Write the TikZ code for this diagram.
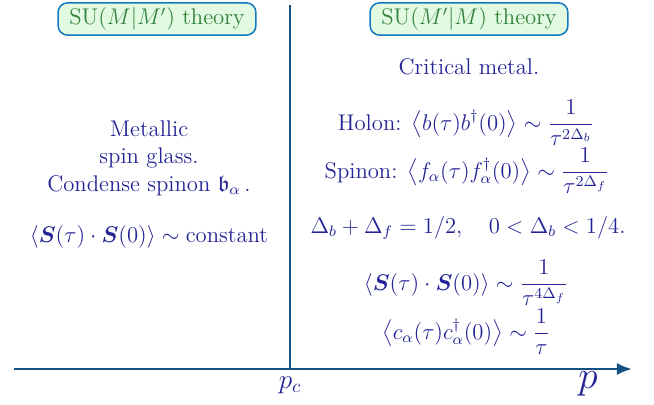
\documentclass[12pt,tikz,border=0pt]{standalone}
\definecolor{axisblue}{RGB}{20, 80, 130}
\definecolor{phasenavy}{RGB}{35, 35, 150}
\definecolor{boxgreen}{RGB}{225, 250, 225}
\definecolor{boxedge}{RGB}{20, 120, 190}
\definecolor{theorygreen}{RGB}{50, 130, 60}
\usepackage{tikz}
\usetikzlibrary{arrows.meta}
\usepackage{amsmath, amssymb}

\begin{document}
\begin{tikzpicture}[
  x=0.0186cm, y=-0.0186cm,
  theory/.style={draw=boxedge, fill=boxgreen, text=theorygreen, rounded corners=5pt, thick,
    minimum width=3.68cm, minimum height=0.6cm, inner sep=2pt},
  phase/.style={text=phasenavy, align=center, inner sep=1pt},
  axis/.style={axisblue, line width=1.5pt}
]
  \useasboundingbox (0,0) rectangle (654,405);
  % axes
  \coordinate (pstart) at (14,369);
  \coordinate (pend) at (632,369);
  \coordinate (ptop) at (290,5);
  \coordinate (pc) at (290,369);
  \draw[axis, -{Latex[length=8pt, width=6.5pt]}] (pstart) -- (pend);
  \draw[axis] (ptop) -- (pc);
  \node[phase] (pclabel) at (290,385) {\large $p_c$};
  \node[phase] (plabel) at (588,384) {\LARGE $p$};
  % theory labels
  \node[theory] (leftth) at (157,19) {$\mathrm{SU}(M|M')$ theory};
  \node[theory] (rightth) at (469,19) {$\mathrm{SU}(M'|M)$ theory};
  % left phase
  \node[phase] (glass) at (149,158) {Metallic\\spin glass.\\Condense spinon $\mathfrak{b}_\alpha$\,.};
  \node[phase] (glasscorr) at (149,237) {$\langle \boldsymbol{S}(\tau)\cdot\boldsymbol{S}(0)\rangle \sim \text{constant}$};
  % right phase
  \node[phase] (metal) at (469,67) {Critical metal.};
  \node[phase] (holon) at (466,123) {Holon: $\displaystyle \big\langle b(\tau) b^\dagger(0) \big\rangle \sim \frac{1}{\tau^{2\Delta_b}}$};
  \node[phase] (spinon) at (467,171) {Spinon: $\displaystyle \big\langle f_\alpha(\tau) f_\alpha^\dagger(0) \big\rangle \sim \frac{1}{\tau^{2\Delta_f}}$};
  \node[phase] (dims) at (468,228) {$\Delta_b + \Delta_f = 1/2, \quad 0 < \Delta_b < 1/4.$};
  \node[phase] (metalspin) at (466,283) {$\displaystyle \langle \boldsymbol{S}(\tau)\cdot\boldsymbol{S}(0)\rangle \sim \frac{1}{\tau^{4\Delta_f}}$};
  \node[phase] (electron) at (466,332) {$\displaystyle \big\langle c_\alpha(\tau) c_\alpha^\dagger(0) \big\rangle \sim \frac{1}{\tau}$};
\end{tikzpicture}
\end{document}
